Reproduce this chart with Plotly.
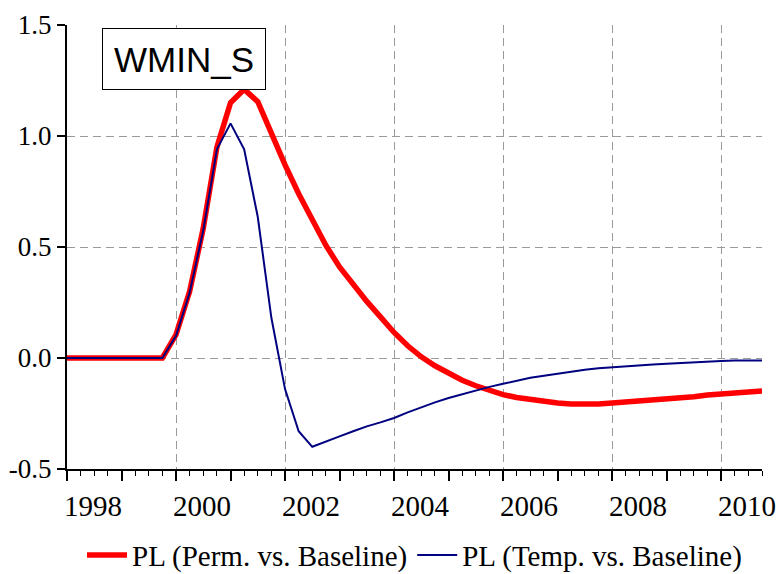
import plotly.graph_objects as go

# Quarterly observations 1998Q1 .. 2010Q4
years = list(range(1998, 2011))
quarters = [(y, q) for y in years for q in range(1, 5)]
x_vals = [y + (q - 1) / 4 for (y, q) in quarters]

perm_vs_base = [
    0, 0, 0, 0, 0, 0, 0, 0,                     # 1998-1999
    0.105, 0.30, 0.585, 0.95,                   # 2000
    1.15, 1.21, 1.155, 1.01,                    # 2001
    0.87, 0.74, 0.62, 0.507,                    # 2002
    0.41, 0.33, 0.255, 0.185,                   # 2003
    0.115, 0.055, 0.005, -0.035,                # 2004
    -0.07, -0.10, -0.125, -0.145,               # 2005
    -0.165, -0.178, -0.188, -0.196,             # 2006
    -0.203, -0.207, -0.208, -0.207,             # 2007
    -0.203, -0.199, -0.194, -0.190,             # 2008
    -0.188, -0.183, -0.175, -0.167,             # 2009
    -0.162, -0.158, -0.154, -0.149,             # 2010
]
temp_vs_base = [
    0, 0, 0, 0, 0, 0, 0, 0,
    0.10, 0.295, 0.575, 0.94,
    1.057, 0.94, 0.635, 0.18,
    -0.14, -0.33, -0.40, -0.375,
    -0.353, -0.33, -0.308, -0.29,
    -0.27, -0.245, -0.222, -0.20,
    -0.18, -0.163, -0.145, -0.13,
    -0.116, -0.103, -0.089, -0.08,
    -0.07, -0.061, -0.053, -0.046,
    -0.041, -0.036, -0.032, -0.029,
    -0.026, -0.022, -0.019, -0.016,
    -0.013, -0.011, -0.011, -0.011,
]

y_tickvals = [-0.5, 0.0, 0.5, 1.0, 1.5]
y_ticktext = ["-0.5", "0.0", "0.5", "1.0", "1.5"]
x_labels = [str(y) if y % 2 == 0 else "" for y in years]
grid_years = [2000, 2002, 2004, 2006, 2008, 2010]
minor_quarters = [v for v in x_vals if v % 1 != 0]

serif = "Times New Roman"
gridcol = "#9a9a9a"
dash = "8px,5px"

fig = go.Figure()
fig.add_trace(go.Scatter(
    x=x_vals, y=perm_vs_base, mode="lines",
    name="PL (Perm. vs. Baseline)",
    line=dict(color="#ff0000", width=5.5),
))
fig.add_trace(go.Scatter(
    x=x_vals, y=temp_vs_base, mode="lines",
    name="PL (Temp. vs. Baseline)",
    line=dict(color="#000080", width=2),
))
# invisible helper trace to carry the grid axis
fig.add_trace(go.Scatter(
    x=x_vals, y=perm_vs_base, mode="lines", xaxis="x2",
    line=dict(width=0), opacity=0, showlegend=False, hoverinfo="skip",
))

fig.update_layout(
    width=777, height=574,
    margin=dict(l=67, r=15, t=25, b=105, autoexpand=False),
    paper_bgcolor="white", plot_bgcolor="white",
    font=dict(family=serif),
    showlegend=True,
    legend=dict(
        orientation="h", x=0.5, xanchor="center",
        yref="container", y=0.033, yanchor="middle",
        font=dict(family=serif, size=29, color="black"),
        itemwidth=40, tracegroupgap=0,
    ),
    xaxis=dict(
        range=[1998, 2010.75], tickmode="array", tickvals=years, ticktext=x_labels,
        ticks="outside", ticklen=10, tickwidth=1.5, tickcolor="black",
        showline=True, linecolor="black", linewidth=2,
        showgrid=False, zeroline=False, automargin=False,
        ticklabelshift=26, ticklabeloverflow="allow",
        tickfont=dict(family=serif, size=29, color="black"),
        minor=dict(tickmode="array", tickvals=minor_quarters, ticks="outside",
                   ticklen=5, tickwidth=1, tickcolor="black", showgrid=False),
    ),
    xaxis2=dict(
        range=[1998, 2010.75], overlaying="x", side="bottom", anchor="y",
        tickmode="array", tickvals=grid_years, showticklabels=False, ticks="",
        showgrid=True, gridcolor=gridcol, gridwidth=1, griddash=dash,
        showline=False, zeroline=False, automargin=False,
    ),
    yaxis=dict(
        range=[-0.5, 1.5], tickmode="array", tickvals=y_tickvals, ticktext=y_ticktext,
        ticks="outside", ticklen=8, tickwidth=1.5, tickcolor="black",
        showline=True, linecolor="black", linewidth=2,
        showgrid=True, gridcolor=gridcol, gridwidth=1, griddash=dash,
        zeroline=False, automargin=False,
        tickfont=dict(family=serif, size=27, color="black"),
    ),
    annotations=[dict(
        text="WMIN_S", xref="paper", yref="paper", x=0.169, y=0.9245,
        xanchor="center", yanchor="middle", showarrow=False,
        font=dict(family="Liberation Sans", size=35, color="black"),
        bordercolor="black", borderwidth=1, borderpad=6, bgcolor="white",
        width=150, height=48,
    )],
)

fig.write_html("out.html")
